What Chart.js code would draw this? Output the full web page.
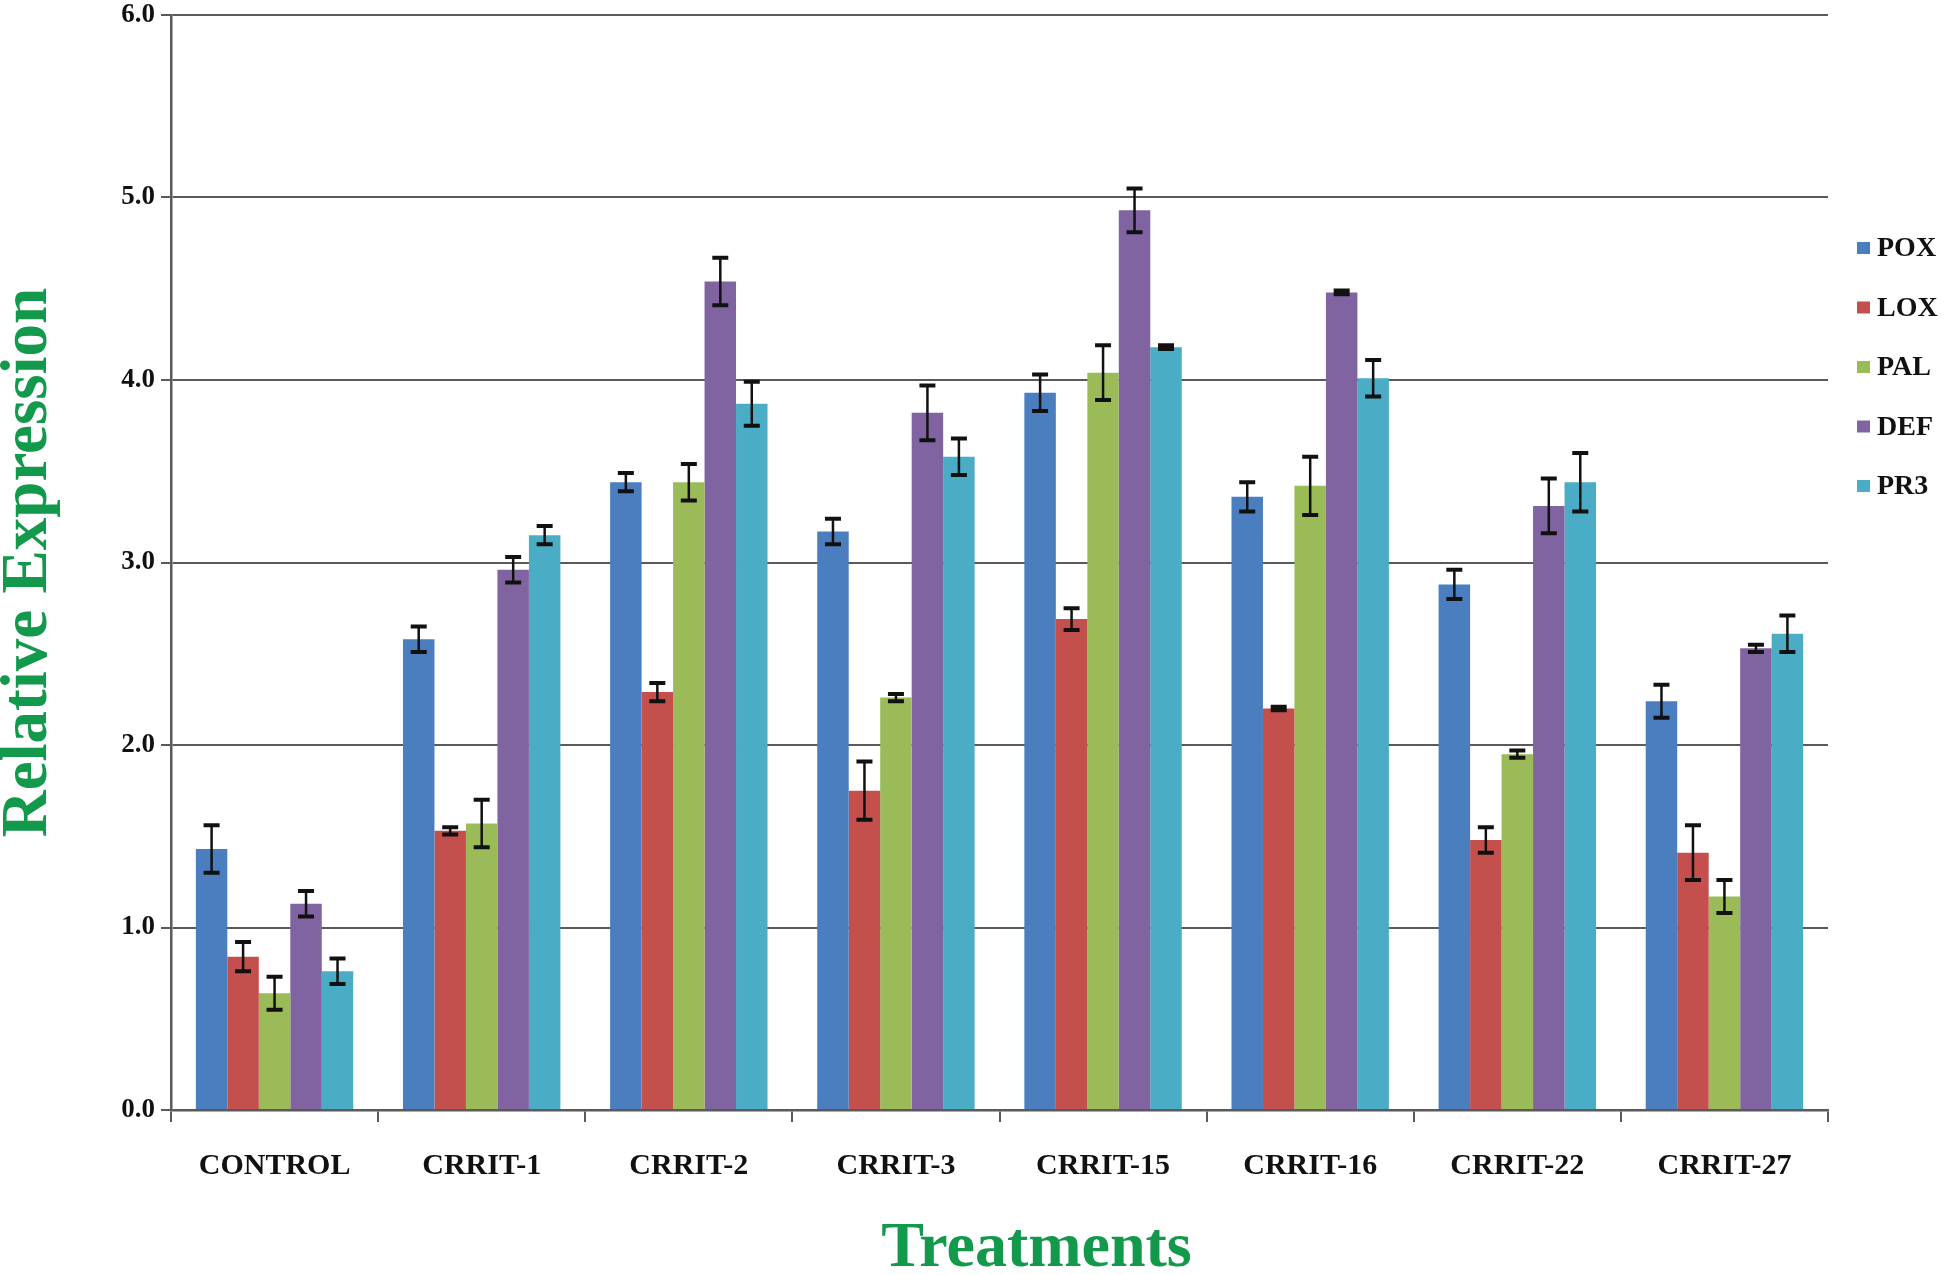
<!DOCTYPE html>
<html>
<head>
<meta charset="utf-8">
<script src="https://cdn.jsdelivr.net/npm/chart.js@4/dist/chart.umd.min.js"></script>
<style>
  html, body { margin: 0; padding: 0; background: #fff; }
  #wrap { width: 1955px; height: 1275px; position: relative; }
</style>
</head>
<body>
<div id="wrap"><canvas id="grafica"></canvas></div>
<script>
// Datos del gráfico
const categorias = ['CONTROL', 'CRRIT-1', 'CRRIT-2', 'CRRIT-3', 'CRRIT-15', 'CRRIT-16', 'CRRIT-22', 'CRRIT-27'];
const genes = ['POX', 'LOX', 'PAL', 'DEF', 'PR3'];

const pox = [1.43, 2.58, 3.44, 3.17, 3.93, 3.36, 2.88, 2.24];
const lox = [0.84, 1.53, 2.29, 1.75, 2.69, 2.20, 1.48, 1.41];
const pal = [0.64, 1.57, 3.44, 2.26, 4.04, 3.42, 1.95, 1.17];
const def = [1.13, 2.96, 4.54, 3.82, 4.93, 4.48, 3.31, 2.53];
const pr3 = [0.76, 3.15, 3.87, 3.58, 4.18, 4.01, 3.44, 2.61];

// Barras de error (desviación)
const poxErr = [0.13, 0.07, 0.05, 0.07, 0.10, 0.08, 0.08, 0.09];
const loxErr = [0.08, 0.02, 0.05, 0.16, 0.06, 0.01, 0.07, 0.15];
const palErr = [0.09, 0.13, 0.10, 0.02, 0.15, 0.16, 0.02, 0.09];
const defErr = [0.07, 0.07, 0.13, 0.15, 0.12, 0.01, 0.15, 0.02];
const pr3Err = [0.07, 0.05, 0.12, 0.10, 0.01, 0.10, 0.16, 0.10];

const yTicks = [0, 1, 2, 3, 4, 5, 6];

const colores = ['#4a7ebf', '#c4504d', '#9bbb59', '#8064a2', '#4bacc6'];
const verde = '#13994b';
const gris = '#5a5a5a';
const fuente = "'Liberation Serif', 'DejaVu Serif', serif";

const valores = [pox, lox, pal, def, pr3];
const errores = [poxErr, loxErr, palErr, defErr, pr3Err];

// Plugin para dibujar las barras de error
const barrasError = {
    id: 'barrasError',
    afterDatasetsDraw(chart) {
        const ctx = chart.ctx;
        const y = chart.scales.y;
        ctx.save();
        ctx.strokeStyle = '#111';
        chart.data.datasets.forEach((ds, i) => {
            const meta = chart.getDatasetMeta(i);
            meta.data.forEach((bar, j) => {
                const v = ds.data[j];
                const e = ds.errores[j];
                const yArriba = y.getPixelForValue(v + e);
                const yAbajo = y.getPixelForValue(v - e);
                ctx.lineWidth = 2.5;
                ctx.beginPath();
                ctx.moveTo(bar.x, yArriba);
                ctx.lineTo(bar.x, yAbajo);
                ctx.stroke();
                ctx.lineWidth = 4;
                ctx.beginPath();
                ctx.moveTo(bar.x - 8, yArriba);
                ctx.lineTo(bar.x + 8, yArriba);
                ctx.moveTo(bar.x - 8, yAbajo);
                ctx.lineTo(bar.x + 8, yAbajo);
                ctx.stroke();
            });
        });
        ctx.restore();
    }
};

// Plugin para la leyenda a la derecha
const leyenda = {
    id: 'leyenda',
    afterDraw(chart) {
        const ctx = chart.ctx;
        const x = chart.chartArea.right + 29;
        ctx.save();
        ctx.font = "bold 28px " + fuente;
        ctx.textBaseline = 'middle';
        ctx.textAlign = 'left';
        chart.data.datasets.forEach((ds, i) => {
            const yc = 248 + i * 59.5;
            ctx.fillStyle = ds.backgroundColor;
            ctx.fillRect(x, yc - 6, 13, 12);
            ctx.fillStyle = '#111';
            ctx.fillText(ds.label, x + 20, yc + 1);
        });
        ctx.restore();
    }
};

// Plugin para el título del eje X (algo desplazado a la derecha como en el original)
const tituloX = {
    id: 'tituloX',
    afterDraw(chart) {
        const ctx = chart.ctx;
        const a = chart.chartArea;
        ctx.save();
        ctx.font = "bold 64px " + fuente;
        ctx.fillStyle = verde;
        ctx.textAlign = 'center';
        ctx.textBaseline = 'middle';
        ctx.fillText('Treatments', (a.left + a.right) / 2 + 37, 1249);
        ctx.restore();
    }
};

const datasets = genes.map((g, i) => ({
    label: g,
    data: valores[i],
    errores: errores[i],
    backgroundColor: colores[i],
    borderWidth: 0
}));

const ctx = document.getElementById('grafica').getContext('2d');
new Chart(ctx, {
    type: 'bar',
    data: { labels: categorias, datasets: datasets },
    options: {
        responsive: true,
        maintainAspectRatio: false,
        animation: false,
        devicePixelRatio: 1,
        layout: { padding: { top: 15, right: 127, left: 0, bottom: 0 } },
        datasets: { bar: { categoryPercentage: 0.76, barPercentage: 1.0 } },
        plugins: {
            legend: { display: false },
            tooltip: { enabled: false }
        },
        scales: {
            x: {
                offset: true,
                grid: {
                    display: true,
                    drawOnChartArea: false,
                    drawTicks: true,
                    tickLength: 12,
                    color: gris,
                    lineWidth: 2,
                    offset: true
                },
                border: { display: true, color: gris, width: 2.5 },
                ticks: {
                    color: '#111',
                    padding: 26,
                    maxRotation: 0,
                    font: { family: fuente, size: 30, weight: 'bold' }
                },
                afterFit(scale) { scale.height = 165; }
            },
            y: {
                min: 0,
                max: 6,
                afterBuildTicks(scale) { scale.ticks = yTicks.map(v => ({ value: v })); },
                grid: {
                    color: gris,
                    lineWidth: 2,
                    drawTicks: true,
                    tickLength: 10
                },
                border: { display: true, color: gris, width: 2.5 },
                ticks: {
                    color: '#111',
                    padding: 6,
                    font: { family: fuente, size: 27, weight: 'bold' },
                    callback: v => Number(v).toFixed(1)
                },
                title: {
                    display: true,
                    text: 'Relative Expression',
                    color: verde,
                    padding: { top: 0, bottom: 0 },
                    font: { family: fuente, size: 65, weight: 'bold', lineHeight: 0.9 }
                },
                afterFit(scale) {
                    scale.width = 171;
                    scale.paddingTop = 0;
                    scale.paddingBottom = 0;
                }
            }
        }
    },
    plugins: [barrasError, leyenda, tituloX]
});
</script>
</body>
</html>
